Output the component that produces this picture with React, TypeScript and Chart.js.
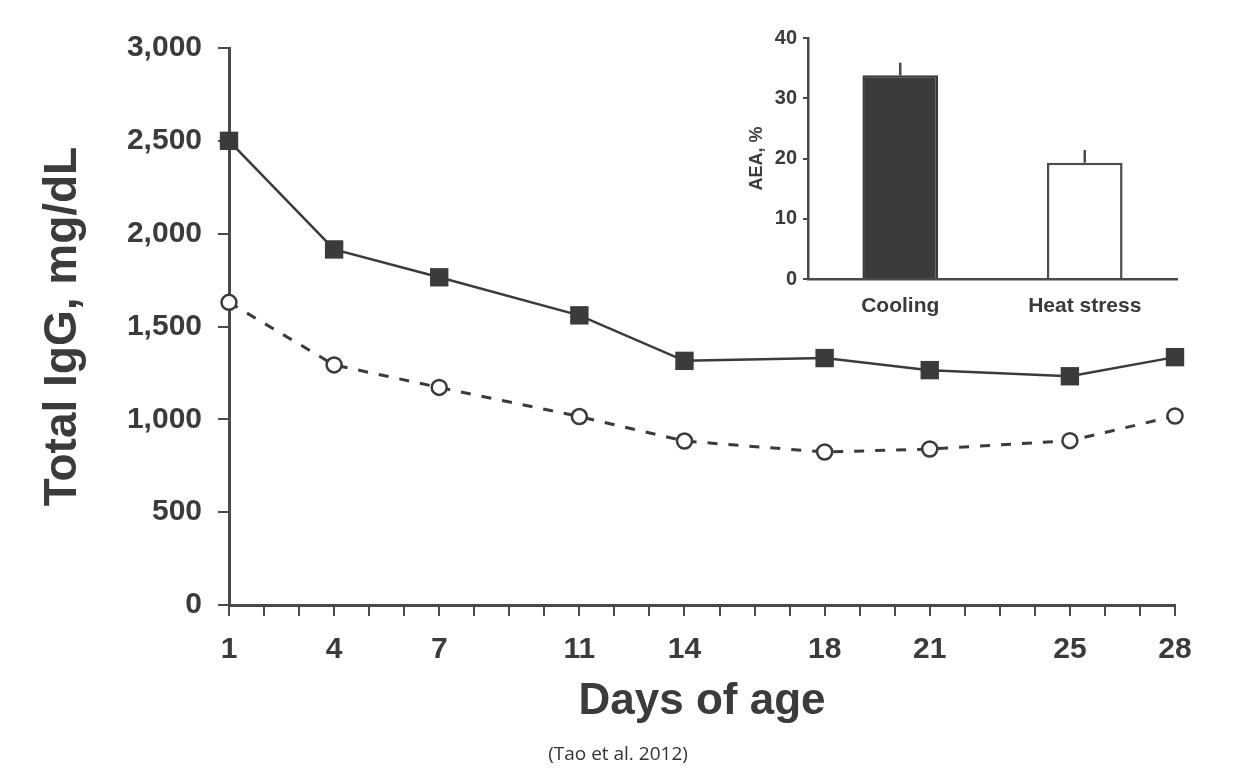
import React, { useEffect, useRef } from "react";
import { Chart, registerables } from "chart.js";

Chart.register(...registerables);

// Serum total IgG by day of age
const days = [1, 4, 7, 11, 14, 18, 21, 25, 28];
const cooledIgG = [2500, 1915, 1765, 1560, 1315, 1330, 1265, 1232, 1335];
const heatStressIgG = [1630, 1293, 1172, 1015, 883, 824, 840, 885, 1018];
const dayTickLabels = [1, 4, 7, 11, 14, 18, 21, 25, 28];

// Inset: apparent efficiency of absorption
const aeaGroups = ["Cooling", "Heat stress"];
const aeaMeans = [33.8, 19.3];
const aeaErrors = [2.1, 2.1];

const INK = "#3b3b3b";
const AXIS = "#4a4a4a";
const FONT = "'Liberation Sans', Arial, Helvetica, sans-serif";

const errorBarPlugin = {
  id: "aeaErrorBars",
  afterDatasetsDraw(chart: any) {
    const { ctx, scales } = chart;
    const meta = chart.getDatasetMeta(0);
    ctx.save();
    ctx.strokeStyle = AXIS;
    ctx.lineWidth = 2.5;
    meta.data.forEach((bar: any, i: number) => {
      const top = scales.y.getPixelForValue(aeaMeans[i] + aeaErrors[i]);
      const base = scales.y.getPixelForValue(aeaMeans[i]);
      ctx.beginPath();
      ctx.moveTo(bar.x, base);
      ctx.lineTo(bar.x, top);
      ctx.stroke();
    });
    ctx.restore();
  },
};

export default function App() {
  const mainRef = useRef<HTMLCanvasElement>(null);
  const insetRef = useRef<HTMLCanvasElement>(null);

  useEffect(() => {
    const main = new Chart(mainRef.current as HTMLCanvasElement, {
      type: "line",
      data: {
        datasets: [
          {
            label: "Cooling",
            data: days.map((d, i) => ({ x: d, y: cooledIgG[i] })),
            borderColor: INK,
            borderWidth: 2.5,
            pointStyle: "rect",
            pointRadius: 13,
            pointBackgroundColor: INK,
            pointBorderColor: INK,
            pointBorderWidth: 0,
            clip: false,
          },
          {
            label: "Heat stress",
            data: days.map((d, i) => ({ x: d, y: heatStressIgG[i] })),
            borderColor: INK,
            borderWidth: 3,
            borderDash: [10, 11],
            pointStyle: "circle",
            pointRadius: 7.5,
            pointBackgroundColor: "#ffffff",
            pointBorderColor: INK,
            pointBorderWidth: 2.5,
            clip: false,
          },
        ],
      },
      options: {
        animation: false,
        responsive: false,
        layout: { padding: { top: 48, right: 69, left: 0, bottom: 0 } },
        plugins: { legend: { display: false }, tooltip: { enabled: false } },
        scales: {
          x: {
            type: "linear",
            min: 1,
            max: 28,
            ticks: {
              stepSize: 1,
              autoSkip: false,
              maxRotation: 0,
              padding: 16,
              color: INK,
              font: { family: FONT, size: 30, weight: "bold" },
              callback: (v: any) => (dayTickLabels.includes(Number(v)) ? String(v) : ""),
            },
            grid: { drawOnChartArea: false, drawTicks: true, tickLength: 11, lineWidth: 2, color: AXIS },
            border: { display: true, width: 3, color: AXIS },
            title: {
              display: true,
              text: "Days of age",
              color: INK,
              font: { family: FONT, size: 44, weight: "bold" },
              padding: { top: 0, bottom: 53 },
            },
            afterFit: (s: any) => {
              s.height = 176;
            },
          },
          y: {
            min: 0,
            max: 3000,
            ticks: {
              stepSize: 500,
              padding: 16,
              color: INK,
              font: { family: FONT, size: 30, weight: "bold" },
              callback: (v: any) => Number(v).toLocaleString("en-US"),
            },
            grid: { drawOnChartArea: false, drawTicks: true, tickLength: 11, lineWidth: 2, color: AXIS },
            border: { display: true, width: 3, color: AXIS },
            title: {
              display: true,
              text: "Total IgG, mg/dL",
              color: INK,
              font: { family: FONT, size: 46, weight: "bold" },
              padding: { top: 36, bottom: 0 },
            },
            afterFit: (s: any) => {
              s.width = 229;
            },
          },
        },
      },
    } as any);

    const inset = new Chart(insetRef.current as HTMLCanvasElement, {
      type: "bar",
      data: {
        labels: aeaGroups,
        datasets: [
          {
            data: aeaMeans,
            backgroundColor: [INK, "#ffffff"],
            borderColor: [INK, AXIS],
            borderWidth: 2.5,
            barPercentage: 0.41,
            categoryPercentage: 1,
          },
        ],
      },
      options: {
        animation: false,
        responsive: false,
        layout: { padding: { top: 18, right: 13, left: 0, bottom: 0 } },
        plugins: { legend: { display: false }, tooltip: { enabled: false } },
        scales: {
          x: {
            ticks: {
              padding: 15,
              color: INK,
              font: { family: FONT, size: 21, weight: "bold" },
            },
            grid: { drawOnChartArea: false, drawTicks: false, color: AXIS },
            border: { display: true, width: 2.5, color: AXIS },
            afterFit: (s: any) => {
              s.height = 61;
            },
          },
          y: {
            min: 0,
            max: 40,
            ticks: {
              stepSize: 10,
              padding: 6,
              color: INK,
              font: { family: FONT, size: 20, weight: "bold" },
            },
            grid: { drawOnChartArea: false, drawTicks: true, tickLength: 5, lineWidth: 2, color: AXIS },
            border: { display: true, width: 2.5, color: AXIS },
            title: {
              display: true,
              text: "AEA, %",
              color: INK,
              font: { family: FONT, size: 18, weight: "bold" },
              padding: { top: 6, bottom: 0 },
            },
            afterFit: (s: any) => {
              s.width = 68;
            },
          },
        },
      },
      plugins: [errorBarPlugin],
    } as any);

    return () => {
      main.destroy();
      inset.destroy();
    };
  }, []);

  return (
    <div
      style={{
        position: "absolute",
        left: 0,
        top: 0,
        width: 1244,
        height: 781,
        background: "#ffffff",
        overflow: "hidden",
      }}
    >
      <canvas
        ref={mainRef}
        width={1244}
        height={781}
        style={{ position: "absolute", left: 0, top: 0, width: 1244, height: 781 }}
      />
      <canvas
        ref={insetRef}
        width={450}
        height={320}
        style={{ position: "absolute", left: 740, top: 20, width: 450, height: 320 }}
      />
      <div
        style={{
          position: "absolute",
          left: 0,
          width: 1236,
          top: 740,
          textAlign: "center",
          fontFamily: "'Open Sans', 'Noto Sans', sans-serif",
          fontSize: 19,
          color: "#333333",
        }}
      >
        (Tao et al. 2012)
      </div>
    </div>
  );
}
